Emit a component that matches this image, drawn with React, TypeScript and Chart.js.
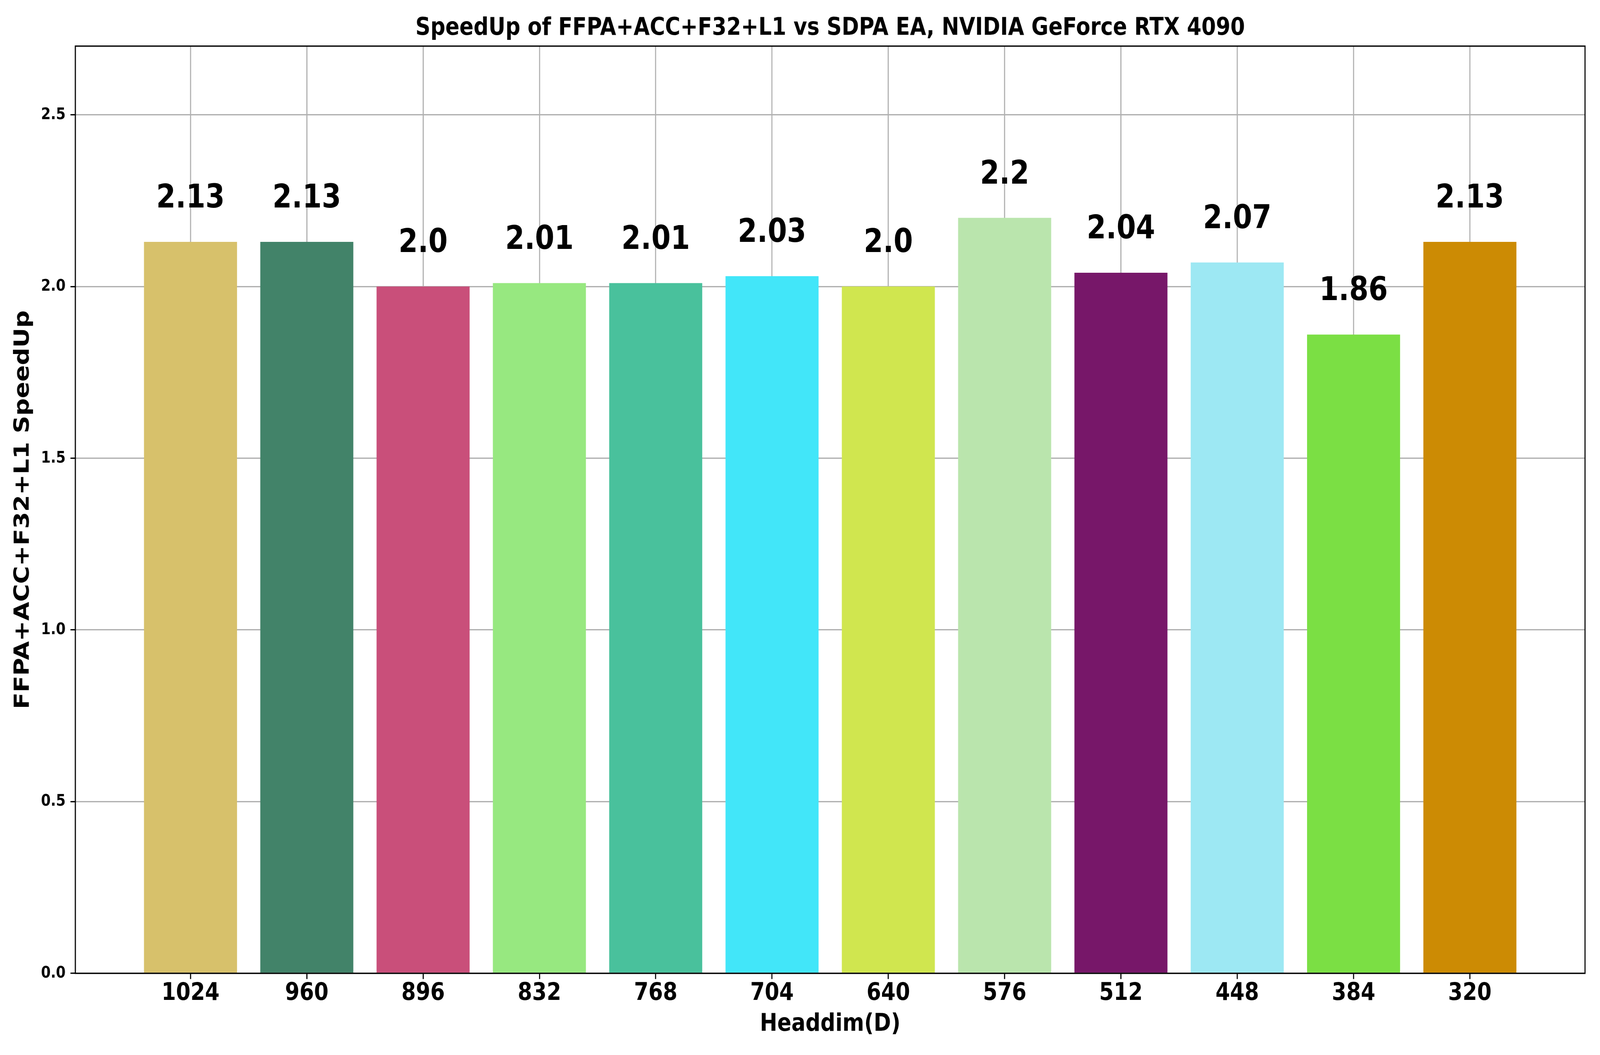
import React, { useEffect, useRef } from 'react';
import { Chart, registerables } from 'chart.js';

Chart.register(...registerables);

// ---- data ----
const categories = ['1024', '960', '896', '832', '768', '704', '640', '576', '512', '448', '384', '320'];
const speedups = [2.13, 2.13, 2.0, 2.01, 2.01, 2.03, 2.0, 2.2, 2.04, 2.07, 1.86, 2.13];
const barColors = [
  '#D7C16B', '#428369', '#C94F7A', '#97E880', '#49C19C', '#42E6F9',
  '#D0E64F', '#BAE5AD', '#771769', '#9DE8F3', '#7BDF44', '#CC8B04',
];
const yTicks = [0, 0.5, 1.0, 1.5, 2.0, 2.5];

const TITLE = 'SpeedUp of FFPA+ACC+F32+L1 vs SDPA EA, NVIDIA GeForce RTX 4090';
const X_TITLE = 'Headdim(D)';
const Y_TITLE = 'FFPA+ACC+F32+L1 SpeedUp';

// ---- axis ranges / styling ----
const Y_MAX = 2.7;
const X_MARGIN = 0.99;
const LABEL_GAP = 0.1;

const W = 4800;
const H = 2700;
const FONT = '"DejaVu Sans", "Liberation Sans", sans-serif';
const GRID = '#b0b0b0';
const LW = 3.33;
const BIG = 62.5;
const SMALL = 41.7;
const VALUE_FONT = 83.3;
const TICK_LEN = 14.6;

const pyStr = (v: number) => (Number.isInteger(v) ? v.toFixed(1) : String(v));

const overlay = {
  id: 'overlay',
  afterDraw(chart: any) {
    const { ctx, chartArea } = chart;
    ctx.save();
    ctx.strokeStyle = '#000';
    ctx.lineWidth = LW;
    ctx.strokeRect(
      chartArea.left,
      chartArea.top,
      chartArea.right - chartArea.left,
      chartArea.bottom - chartArea.top
    );
    const meta = chart.getDatasetMeta(0);
    const yScale = chart.scales.y;
    ctx.font = `bold ${VALUE_FONT}px ${FONT}`;
    ctx.textAlign = 'center';
    ctx.textBaseline = 'alphabetic';
    ctx.fillStyle = '#000';
    meta.data.forEach((bar: any, i: number) => {
      ctx.fillText(pyStr(speedups[i]), bar.x, yScale.getPixelForValue(speedups[i] + LABEL_GAP));
    });
    ctx.restore();
  },
};

export default function App() {
  const ref = useRef<HTMLCanvasElement | null>(null);

  useEffect(() => {
    if (!ref.current) return;
    document.body.style.margin = '0';
    document.body.style.overflow = 'hidden';
    const canvas = ref.current;
    // the figure is drawn at 4800x2700 and shown to fill the actual window
    canvas.style.width = `${window.innerWidth}px`;
    canvas.style.height = `${window.innerHeight}px`;
    const chart = new Chart(canvas, {
      type: 'bar',
      data: {
        datasets: [
          {
            data: speedups.map((v, i) => ({ x: i, y: v })),
            backgroundColor: barColors,
            borderWidth: 0,
            categoryPercentage: 1.0,
            barPercentage: 0.8,
          },
        ],
      },
      options: {
        animation: false,
        responsive: false,
        devicePixelRatio: 1,
        layout: { padding: { left: 0, right: 45, top: 0, bottom: 0 } },
        plugins: {
          legend: { display: false },
          tooltip: { enabled: false },
          title: {
            display: true,
            text: TITLE,
            fullSize: false,
            color: '#000',
            font: { family: FONT, size: BIG, weight: 'bold', lineHeight: 1.2 },
            padding: { top: 35, bottom: 8 },
          },
        },
        scales: {
          x: {
            type: 'linear',
            bounds: 'data',
            offset: false,
            min: -X_MARGIN,
            max: categories.length - 1 + X_MARGIN,
            z: 1,
            afterBuildTicks: (s: any) => {
              s.ticks = categories.map((_, i) => ({ value: i }));
            },
            afterFit: (s: any) => {
              s.height = 209;
            },
            ticks: {
              stepSize: 1,
              autoSkip: false,
              maxRotation: 0,
              color: '#000',
              padding: 6,
              font: { family: FONT, size: BIG, weight: 'bold', lineHeight: 1 },
              callback: (v: any) => categories[v] ?? '',
            },
            grid: {
              offset: false,
              color: GRID,
              lineWidth: LW,
              tickColor: '#000',
              tickWidth: LW,
              tickLength: TICK_LEN,
            },
            border: { display: false },
            title: {
              display: true,
              text: X_TITLE,
              color: '#000',
              font: { family: FONT, size: BIG, weight: 'bold', lineHeight: 1.2 },
              padding: { top: 0, bottom: 41 },
            },
          },
          y: {
            type: 'linear',
            min: 0,
            max: Y_MAX,
            z: 1,
            afterBuildTicks: (s: any) => {
              s.ticks = yTicks.map((v) => ({ value: v }));
            },
            afterFit: (s: any) => {
              s.width = 226;
            },
            ticks: {
              color: '#000',
              padding: TICK_LEN,
              font: { family: FONT, size: SMALL, weight: 'bold', lineHeight: 1.2 },
              callback: (v: any) => Number(v).toFixed(1),
            },
            grid: {
              color: GRID,
              lineWidth: LW,
              tickColor: '#000',
              tickWidth: LW,
              tickLength: TICK_LEN,
            },
            border: { display: false },
            title: {
              display: true,
              text: Y_TITLE,
              color: '#000',
              font: { family: FONT, size: BIG, weight: 'bold', lineHeight: 1.2 },
              padding: { top: 32, bottom: 0 },
            },
          },
        },
      } as any,
      plugins: [overlay],
    });
    return () => chart.destroy();
  }, []);

  return (
    <div style={{ position: 'fixed', left: 0, top: 0, width: '100vw', height: '100vh', background: '#fff', overflow: 'hidden' }}>
      <canvas ref={ref} width={W} height={H} style={{ display: 'block' }} />
    </div>
  );
}
